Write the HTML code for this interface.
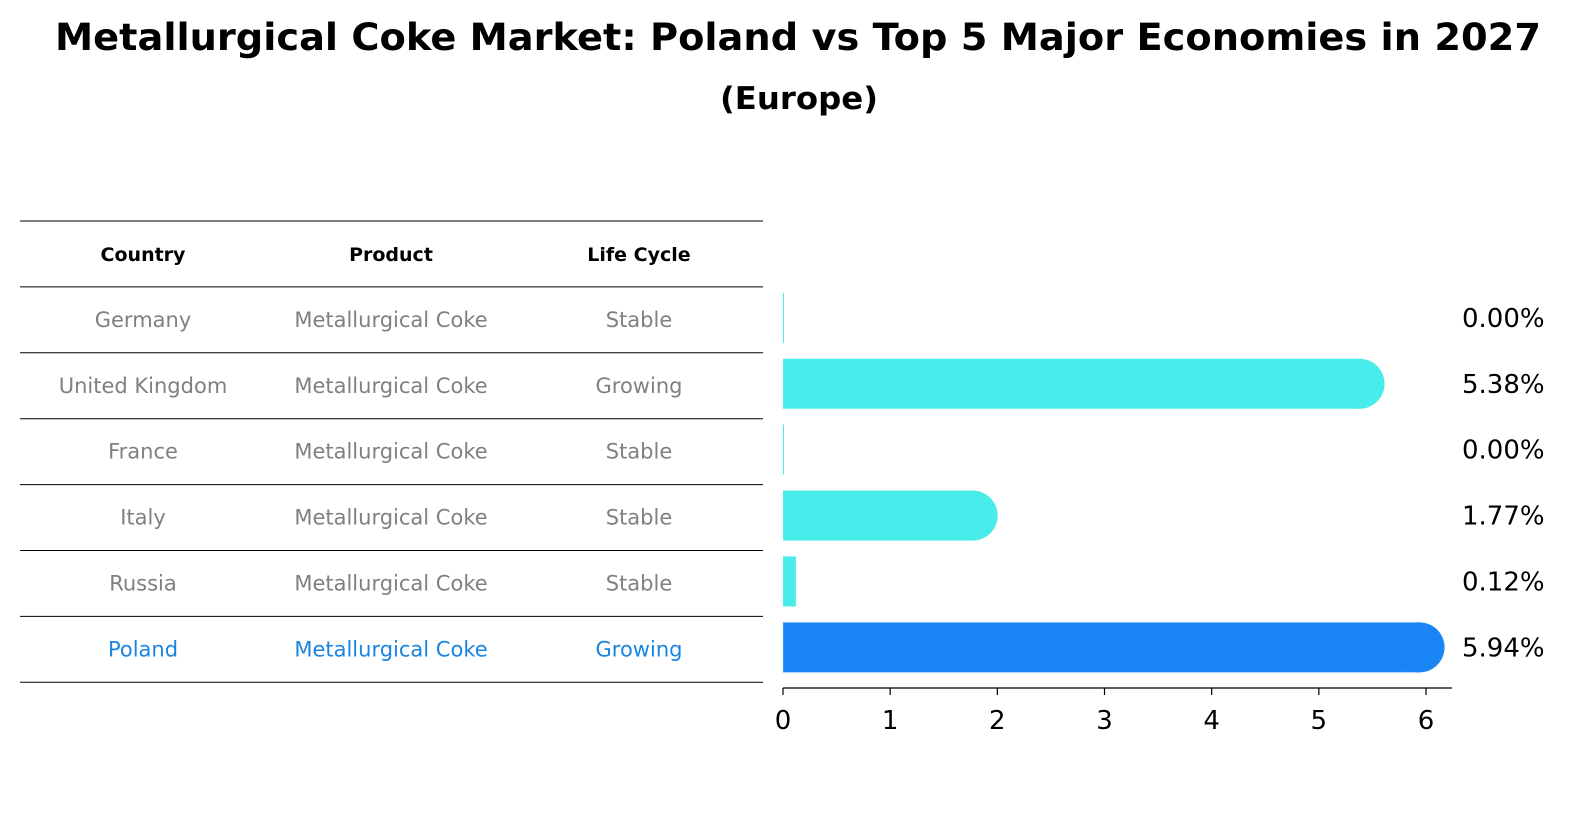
<!DOCTYPE html>
<html><head><meta charset="utf-8">
<style>
body{margin:0;background:#fff;font-family:"Liberation Sans","DejaVu Sans",sans-serif;}
svg text{font-family:"DejaVu Sans","Liberation Sans",sans-serif;}
</style></head>
<body>
<svg id="chart" width="1586" height="823" viewBox="0 0 1586 823" xmlns="http://www.w3.org/2000/svg">
<text x="798" y="50" text-anchor="middle" font-size="37" font-weight="bold" textLength="1486" lengthAdjust="spacingAndGlyphs">Metallurgical Coke Market: Poland vs Top 5 Major Economies in 2027</text>
<text x="799" y="109" text-anchor="middle" font-size="31" font-weight="bold" textLength="158" lengthAdjust="spacingAndGlyphs">(Europe)</text>
<g id="table"></g>
<g id="bars"></g>
</svg>
<script>
const countries=["Germany","United Kingdom","France","Italy","Russia","Poland"];
const products=["Metallurgical Coke","Metallurgical Coke","Metallurgical Coke","Metallurgical Coke","Metallurgical Coke","Metallurgical Coke"];
const lifeCycles=["Stable","Growing","Stable","Stable","Stable","Growing"];
const values=[0.00,5.38,0.00,1.77,0.12,5.94];
const xTicks=[0,1,2,3,4,5,6];
const NS="http://www.w3.org/2000/svg";
function mk(tag,attrs,parent){const e=document.createElementNS(NS,tag);for(const k in attrs)e.setAttribute(k,attrs[k]);parent.appendChild(e);return e;}
const table=document.getElementById('table');
const bars=document.getElementById('bars');
const rowTop=221,rowH=65.9,cols=[143,391,639];
const hdr=["Country","Product","Life Cycle"];
hdr.forEach((h,i)=>{const t=mk('text',{x:cols[i],y:rowTop+rowH/2+7,'text-anchor':'middle','font-size':19,'font-weight':'bold'},table);t.textContent=h;

});
for(let i=0;i<=countries.length+1;i++){const l=mk('line',{x1:20,x2:763,y1:rowTop+i*rowH,y2:rowTop+i*rowH,stroke:'#000','stroke-width':1},table);

}
countries.forEach((c,r)=>{const y=rowTop+(r+1)*rowH+rowH/2+7;const col=c==="Poland"?"#1a85e0":"#808080";
[c,products[r],lifeCycles[r]].forEach((v,i)=>{const t=mk('text',{x:cols[i],y:y,'text-anchor':'middle','font-size':21,fill:col},table);t.textContent=v;

});});
const x0=783,pxPer=(1426-783)/6;const xs=v=>x0+v*pxPer;
const rowY=r=>rowTop+(r+1)*rowH+rowH/2-2;
const bh=50;
values.forEach((v,r)=>{const cy=rowY(r);const isP=countries[r]==="Poland";const fill=isP?"#1a85f5":"#48ecea";
const w=Math.max(xs(v)-x0,1);
if(isP){const o=mk('rect',{x:x0,y:cy-bh/2,width:w,height:bh,fill:fill,stroke:'#9fd0ff','stroke-width':1,'stroke-dasharray':'2,2'},bars);

}
else{const rect=mk('rect',{x:x0,y:cy-bh/2,width:w,height:bh,fill:fill},bars);

}
if(v>0.5){const c=mk('circle',{cx:xs(v),cy:cy,r:bh/2,fill:fill},bars);

}
const t=mk('text',{x:1462,y:cy+9,'font-size':26},bars);t.textContent=v.toFixed(2)+'%';

});
const ax=mk('line',{x1:x0,x2:1452,y1:688,y2:688,stroke:'#000','stroke-width':1.2},bars);


xTicks.forEach(v=>{const tk=mk('line',{x1:xs(v),x2:xs(v),y1:688,y2:695,stroke:'#000','stroke-width':1.2},bars);


const t=mk('text',{x:xs(v),y:729,'text-anchor':'middle','font-size':26},bars);t.textContent=v;

});
</script>
</body></html>
